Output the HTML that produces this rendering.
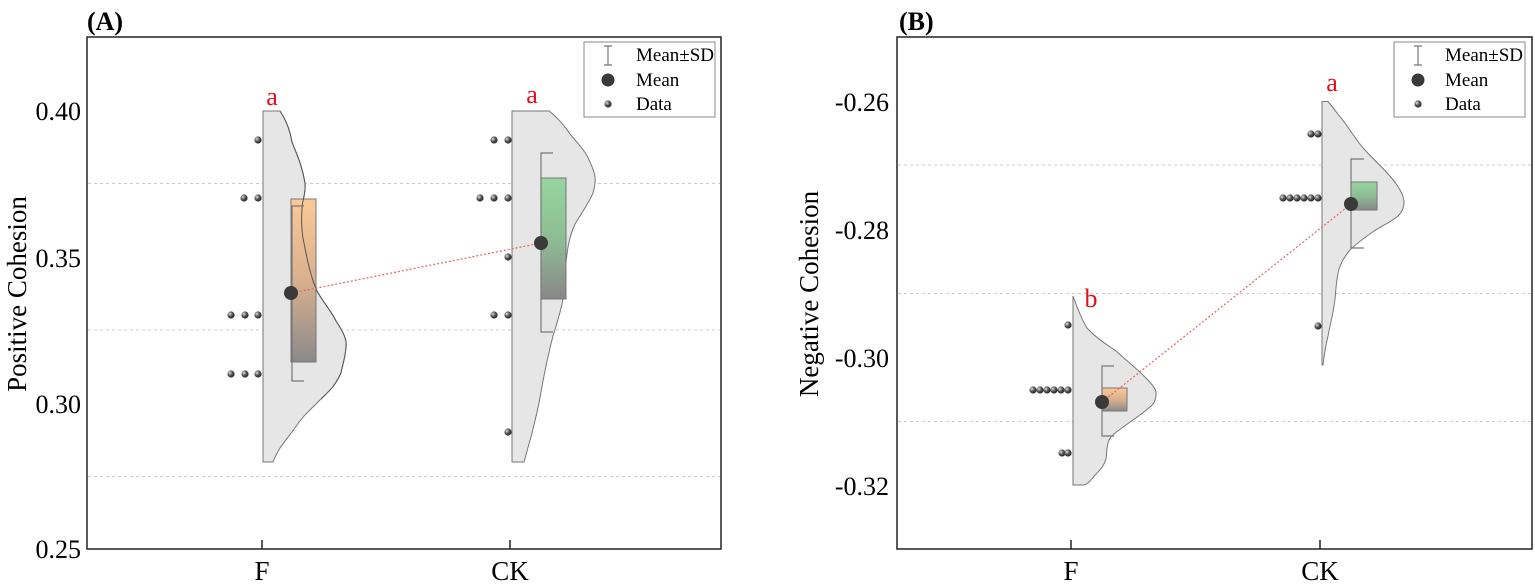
<!DOCTYPE html>
<html><head><meta charset="utf-8"><style>
html,body{margin:0;padding:0;background:#fff;}
svg, svg text{font-family:"Liberation Serif","Times New Roman",Times,serif;}
</style></head><body>
<svg width="1535" height="582" viewBox="0 0 1535 582" xmlns="http://www.w3.org/2000/svg" font-family="'Liberation Serif', 'Times New Roman', serif">
<defs>
<linearGradient id="go" x1="0" y1="0" x2="0" y2="1"><stop offset="0" stop-color="#fbc995"/><stop offset="0.5" stop-color="#d9b08e"/><stop offset="1" stop-color="#8a8a8a"/></linearGradient>
<linearGradient id="gg" x1="0" y1="0" x2="0" y2="1"><stop offset="0" stop-color="#96d59e"/><stop offset="0.5" stop-color="#8fbd94"/><stop offset="1" stop-color="#888"/></linearGradient>
<radialGradient id="dg" cx="0.35" cy="0.35" r="0.7"><stop offset="0" stop-color="#ddd"/><stop offset="0.5" stop-color="#555"/><stop offset="1" stop-color="#222"/></radialGradient>
</defs>

<!-- Panel A -->
<text x="87" y="30" font-size="26" font-weight="bold">(A)</text>
<g stroke="#ccc" stroke-dasharray="3,3" stroke-width="1">
<line x1="88" y1="183.5" x2="721" y2="183.5"/><line x1="88" y1="330" x2="721" y2="330"/><line x1="88" y1="476.5" x2="721" y2="476.5"/>
</g>
<rect x="87" y="37" width="634" height="512" fill="none" stroke="#222" stroke-width="1.5"/>
<g font-size="26" text-anchor="end">
<text x="81" y="120">0.40</text><text x="81" y="267">0.35</text><text x="81" y="413">0.30</text><text x="81" y="558">0.25</text>
</g>
<g stroke="#222" stroke-width="1.5"><line x1="262" y1="549" x2="262" y2="540"/><line x1="510" y1="549" x2="510" y2="540"/></g>
<g font-size="27" text-anchor="middle"><text x="262" y="580">F</text><text x="510" y="580">CK</text></g>
<text transform="translate(26,294) rotate(-90)" font-size="27" text-anchor="middle">Positive Cohesion</text>

<path d="M263,111 L280,111 C286,120 290,130 292,142 C297,155 302,165 305,183 C306,195 302,200 302,209 C301,225 302,235 304,243 C308,265 312,280 317,291 C325,305 332,312 336,321 C344,333 347,340 346,347 C345,360 342,366 341,373 C334,388 328,392 321,399 C310,410 303,416 297,425 C290,435 284,442 280,448 C276,455 274,459 273,462 L263,462 Z" fill="#e6e6e6" stroke="#777" stroke-width="1"/>
<rect x="291" y="199" width="25" height="163" fill="url(#go)" stroke="#777" stroke-width="1"/>
<path d="M280,111 C286,120 290,130 292,142 C297,155 302,165 305,183 C306,195 302,200 302,209 C301,225 302,235 304,243 C308,265 312,280 317,291 C325,305 332,312 336,321 C344,333 347,340 346,347 C345,360 342,366 341,373 C334,388 328,392 321,399" fill="none" stroke="#555" stroke-width="1"/>
<path d="M304,206 L292,206 L292,381 L304,381" fill="none" stroke="#777" stroke-width="1.2"/>

<path d="M512,111 L549,111 C558,118 564,125 570,134 C580,146 586,152 589,160 C594,170 596,177 595,183 C594,192 592,196 589,201 C584,210 580,216 575,224 C570,235 568,245 567,254 C565,270 564,285 563,299 C560,315 556,326 553,336 C548,355 544,375 541,392 C538,410 534,425 531,437 C528,447 526,455 524,462 L512,462 Z" fill="#e6e6e6" stroke="#777" stroke-width="1"/>
<rect x="541" y="178" width="25" height="121" fill="url(#gg)" stroke="#777" stroke-width="1"/>
<path d="M553,153 L541,153 L541,332 L553,332" fill="none" stroke="#777" stroke-width="1.2"/>

<line x1="292" y1="293" x2="541" y2="243" stroke="#e8606a" stroke-width="1.2" stroke-dasharray="2,2"/>
<circle cx="291" cy="293" r="7" fill="#3a3a3a"/>
<circle cx="541" cy="243" r="7" fill="#3a3a3a"/>
<g fill="url(#dg)">
<circle cx="258" cy="140" r="3.6"/>
<circle cx="244" cy="198" r="3.6"/><circle cx="258" cy="198" r="3.6"/>
<circle cx="231" cy="315" r="3.6"/><circle cx="245" cy="315" r="3.6"/><circle cx="258" cy="315" r="3.6"/>
<circle cx="231" cy="374" r="3.6"/><circle cx="245" cy="374" r="3.6"/><circle cx="258" cy="374" r="3.6"/>
<circle cx="494" cy="140" r="3.6"/><circle cx="508" cy="140" r="3.6"/>
<circle cx="480" cy="198" r="3.6"/><circle cx="494" cy="198" r="3.6"/><circle cx="508" cy="198" r="3.6"/>
<circle cx="508" cy="257" r="3.6"/>
<circle cx="494" cy="315" r="3.6"/><circle cx="508" cy="315" r="3.6"/>
<circle cx="508" cy="432" r="3.6"/>
</g>
<g font-size="26" fill="#e3101a" text-anchor="middle"><text x="272" y="105">a</text><text x="532" y="103">a</text></g>

<rect x="584" y="42" width="131" height="75" fill="#fff" stroke="#888" stroke-width="1"/>
<path d="M604,46 L612,46 M608,46 L608,65 M604,65 L612,65" stroke="#777" stroke-width="1.2" fill="none"/>
<circle cx="608" cy="80" r="6.5" fill="#3a3a3a"/>
<circle cx="608" cy="104" r="3.6" fill="url(#dg)"/>
<g font-size="19"><text x="636" y="61">Mean±SD</text><text x="636" y="86">Mean</text><text x="636" y="110">Data</text></g>

<!-- Panel B -->
<text x="899" y="30" font-size="26" font-weight="bold">(B)</text>
<g stroke="#ccc" stroke-dasharray="3,3" stroke-width="1">
<line x1="898" y1="165" x2="1531" y2="165"/><line x1="898" y1="293.5" x2="1531" y2="293.5"/><line x1="898" y1="421.5" x2="1531" y2="421.5"/>
</g>
<rect x="897" y="37" width="635" height="512" fill="none" stroke="#222" stroke-width="1.5"/>
<g font-size="26" text-anchor="end">
<text x="889" y="111">-0.26</text><text x="889" y="239">-0.28</text><text x="889" y="367">-0.30</text><text x="889" y="495">-0.32</text>
</g>
<g stroke="#222" stroke-width="1.5"><line x1="1071" y1="549" x2="1071" y2="540"/><line x1="1320" y1="549" x2="1320" y2="540"/></g>
<g font-size="27" text-anchor="middle"><text x="1071" y="580">F</text><text x="1320" y="580">CK</text></g>
<text transform="translate(827,294) rotate(-90)" font-size="27" text-anchor="middle" dy="-9">Negative Cohesion</text>

<path d="M1073,296 C1078,310 1082,320 1087,328 C1096,338 1106,344 1116,351 C1127,361 1137,369 1145,377 C1152,384 1157,390 1156,394 C1156,400 1154,404 1150,407 C1142,414 1134,419 1126,425 C1116,432 1111,436 1109,440 C1106,448 1107,454 1106,459 C1104,466 1100,470 1096,474 C1091,480 1088,484 1084,485 L1073,485 Z" fill="#e6e6e6" stroke="#777" stroke-width="1"/>
<rect x="1102" y="388" width="25" height="23" fill="url(#go)" stroke="#777" stroke-width="1"/>
<path d="M1114,366 L1102,366 L1102,436 L1114,436" fill="none" stroke="#777" stroke-width="1.2"/>

<path d="M1322,101.5 L1328,101.5 C1335,110 1340,117 1345,123 C1352,133 1357,141 1364,149 C1374,160 1382,167 1389,175 C1397,184 1403,193 1404,201 C1404,208 1402,212 1398,216 C1391,222 1382,226 1374,231 C1364,238 1356,244 1350,250 C1344,257 1341,263 1339,269 C1336,280 1336,290 1335,299 C1333,315 1330,325 1328,336 C1325,348 1324,356 1323,365 L1322,365 Z" fill="#e6e6e6" stroke="#777" stroke-width="1"/>
<rect x="1351" y="182" width="26" height="28" fill="url(#gg)" stroke="#777" stroke-width="1"/>
<path d="M1364,159 L1351,159 L1351,248 L1364,248" fill="none" stroke="#777" stroke-width="1.2"/>

<line x1="1102" y1="402" x2="1351" y2="204" stroke="#e8606a" stroke-width="1.2" stroke-dasharray="2,2"/>
<circle cx="1102" cy="402" r="7" fill="#3a3a3a"/>
<circle cx="1351" cy="204" r="7" fill="#3a3a3a"/>
<g fill="url(#dg)">
<circle cx="1068" cy="325" r="3.6"/>
<circle cx="1033" cy="390" r="3.6"/><circle cx="1040" cy="390" r="3.6"/><circle cx="1047" cy="390" r="3.6"/><circle cx="1054" cy="390" r="3.6"/><circle cx="1061" cy="390" r="3.6"/><circle cx="1068" cy="390" r="3.6"/>
<circle cx="1062" cy="453" r="3.6"/><circle cx="1068" cy="453" r="3.6"/>
<circle cx="1311" cy="134" r="3.6"/><circle cx="1318" cy="134" r="3.6"/>
<circle cx="1283" cy="198" r="3.6"/><circle cx="1290" cy="198" r="3.6"/><circle cx="1297" cy="198" r="3.6"/><circle cx="1304" cy="198" r="3.6"/><circle cx="1311" cy="198" r="3.6"/><circle cx="1318" cy="198" r="3.6"/>
<circle cx="1318" cy="326" r="3.6"/>
</g>
<g font-size="26" fill="#e3101a" text-anchor="middle"><text x="1091" y="307">b</text><text x="1332" y="91">a</text></g>

<rect x="1394" y="42" width="131" height="75" fill="#fff" stroke="#888" stroke-width="1"/>
<path d="M1414,46 L1422,46 M1418,46 L1418,65 M1414,65 L1422,65" stroke="#777" stroke-width="1.2" fill="none"/>
<circle cx="1418" cy="80" r="6.5" fill="#3a3a3a"/>
<circle cx="1418" cy="104" r="3.6" fill="url(#dg)"/>
<g font-size="19"><text x="1445" y="61">Mean±SD</text><text x="1445" y="86">Mean</text><text x="1445" y="110">Data</text></g>
</svg>
</body></html>
